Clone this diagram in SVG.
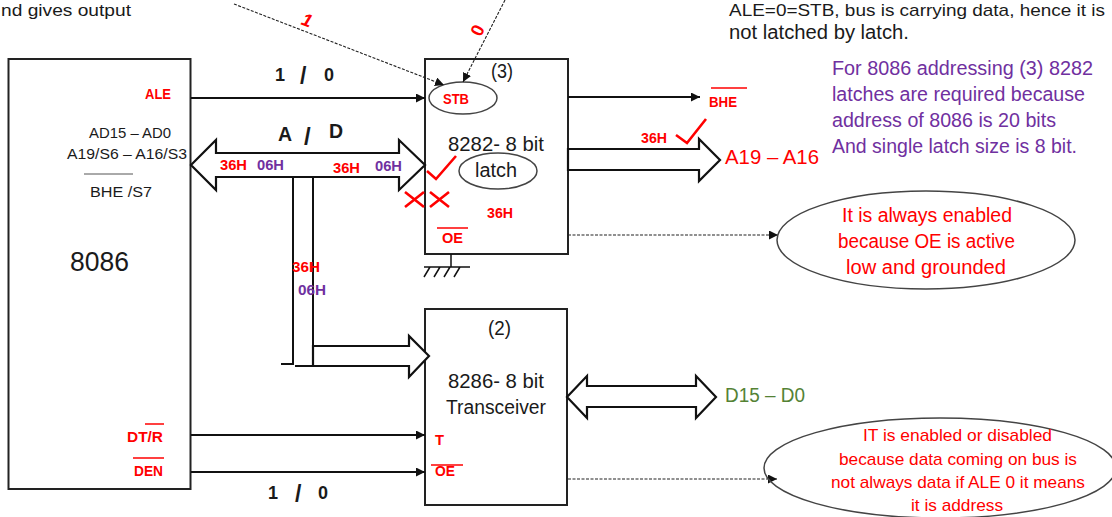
<svg xmlns="http://www.w3.org/2000/svg" width="1112" height="517" viewBox="0 0 1112 517">
<style>
text{font-family:"Liberation Sans",Arial,sans-serif;fill:#1a1a1a;font-size:19.500px}
.b{font-weight:bold}
.r{fill:#f00}
.p{fill:#7030a0}
.g{fill:#548235}
.s{font-size:14px}
.m{font-size:15px}
.k{font-size:18px}
.t{font-size:17px}
.box{fill:#fff;stroke:#222;stroke-width:2}
.oval{fill:none;stroke:#444;stroke-width:1.500}
.ln{fill:none;stroke:#111;stroke-width:2}
.bus{fill:#fff;stroke:#111;stroke-width:2.200}
.dash{fill:none;stroke:#222;stroke-width:1.100;stroke-dasharray:3 1.500}
.red{fill:none;stroke:#f00;stroke-width:2.600}
.bar{stroke:#f00;stroke-width:1.500}
</style>
<defs>
<marker id="a" markerUnits="userSpaceOnUse" markerWidth="10" markerHeight="9" refX="9" refY="4.500" orient="auto"><path d="M0 0L9 4.500L0 9Z" fill="#111"/></marker>
</defs>
<g id="top-notes">
<text class="t" x="1" y="16" textLength="130" lengthAdjust="spacingAndGlyphs">nd gives output</text>
<text class="t" x="729" y="16" textLength="376" lengthAdjust="spacingAndGlyphs">ALE=0=STB, bus is carrying data, hence it is</text>
<text x="729" y="39" textLength="180" lengthAdjust="spacingAndGlyphs">not latched by latch.</text>
</g>
<g id="node-8086">
<rect class="box" x="8.500" y="59" width="182" height="430"/>
<text class="b r s" x="145" y="99" textLength="26" lengthAdjust="spacingAndGlyphs">ALE</text>
<text class="m" x="89" y="138" textLength="82" lengthAdjust="spacingAndGlyphs">AD15 – AD0</text>
<text class="m" x="67" y="159" textLength="120" lengthAdjust="spacingAndGlyphs">A19/S6  – A16/S3</text>
<line x1="84" y1="174" x2="133" y2="174" stroke="#555" stroke-width="1"/>
<text class="m" x="90" y="197" textLength="62" lengthAdjust="spacingAndGlyphs">BHE /S7</text>
<text x="70" y="271" style="font-size:28px" textLength="59" lengthAdjust="spacingAndGlyphs">8086</text>
<text class="b r s" x="127" y="442" textLength="36" lengthAdjust="spacingAndGlyphs">DT/R</text>
<line class="bar" x1="145" y1="424" x2="164" y2="424"/>
<text class="b r s" x="134" y="476" textLength="29" lengthAdjust="spacingAndGlyphs">DEN</text>
<line class="bar" x1="133" y1="458" x2="164" y2="458"/>
</g>
<g id="node-8282">
<rect class="box" x="425" y="59" width="143" height="195"/>
<text x="491" y="78" textLength="22" lengthAdjust="spacingAndGlyphs">(3)</text>
<ellipse class="oval" cx="463" cy="98" rx="34" ry="16"/>
<text class="b r s" x="443" y="104" textLength="26" lengthAdjust="spacingAndGlyphs">STB</text>
<text x="448" y="151" textLength="96" lengthAdjust="spacingAndGlyphs">8282- 8 bit</text>
<ellipse class="oval" cx="498" cy="171" rx="39" ry="18"/>
<text x="475" y="177" textLength="42" lengthAdjust="spacingAndGlyphs">latch</text>
<text class="b r s" x="487" y="218" textLength="26" lengthAdjust="spacingAndGlyphs">36H</text>
<line class="bar" x1="437" y1="228" x2="468" y2="228"/>
<text class="b r s" x="442" y="243" textLength="21" lengthAdjust="spacingAndGlyphs">OE</text>
<path class="ln" style="stroke-width:1.500" d="M451 254V267M424 267H470M430 267L424 277M440 267L434 277M450 267L444 277M460 267L454 277"/>
</g>
<g id="node-8286">
<rect class="box" x="425" y="309" width="142" height="196"/>
<text x="488" y="335" textLength="23" lengthAdjust="spacingAndGlyphs">(2)</text>
<text x="448" y="388" textLength="96" lengthAdjust="spacingAndGlyphs">8286- 8 bit</text>
<text x="446" y="414" textLength="100" lengthAdjust="spacingAndGlyphs">Transceiver</text>
<text class="b r s" x="435" y="445" textLength="9" lengthAdjust="spacingAndGlyphs">T</text>
<line class="bar" x1="431" y1="465" x2="463" y2="465"/>
<text class="b r s" x="435" y="476" textLength="20" lengthAdjust="spacingAndGlyphs">OE</text>
</g>
<g id="connectors">
<line class="ln" x1="191" y1="98" x2="425" y2="98" marker-end="url(#a)"/>
<path class="bus" d="M191 165L216 140V153H399V140L425 165L399 190V177H216V190Z"/>
<path class="ln" d="M293 177V364H281M313 177V366M295 366H333"/>
<path class="bus" d="M313 346H409V336L429 356L409 377V366H313Z"/>
<line class="ln" x1="568" y1="97" x2="700" y2="97" marker-end="url(#a)"/>
<path class="bus" d="M568 149H699V139L720 160L699 181V170H568Z"/>
<path class="bus" d="M567 397L587 376V386H696V376L716 397L696 418V407H587V418Z"/>
<line class="ln" x1="191" y1="435" x2="425" y2="435" marker-end="url(#a)"/>
<line class="ln" x1="191" y1="472" x2="425" y2="472" marker-end="url(#a)"/>
<line class="dash" x1="234" y1="4" x2="444" y2="85" marker-end="url(#a)"/>
<line class="dash" x1="505" y1="0" x2="463" y2="82" marker-end="url(#a)"/>
<line class="dash" x1="568" y1="235" x2="778" y2="235" marker-end="url(#a)"/>
<line class="dash" x1="568" y1="479" x2="777" y2="479" marker-end="url(#a)"/>
</g>
<g id="bus-labels">
<text class="b" x="275" y="81" style="font-size:18px">1</text>
<text class="b" x="300" y="84" style="font-size:23px">/</text>
<text class="b" x="324" y="81" style="font-size:18px">0</text>
<text class="b" x="268" y="499" style="font-size:18px">1</text>
<text class="b" x="295" y="502" style="font-size:23px">/</text>
<text class="b" x="318" y="499" style="font-size:18px">0</text>
<text class="b" x="278" y="141">A</text>
<text class="b" x="304" y="145" style="font-size:24px">/</text>
<text class="b" x="329" y="138">D</text>
<text class="b r m" x="220" y="170" textLength="27" lengthAdjust="spacingAndGlyphs">36H</text>
<text class="b p m" x="257" y="170" textLength="27" lengthAdjust="spacingAndGlyphs">06H</text>
<text class="b r m" x="333" y="173" textLength="27" lengthAdjust="spacingAndGlyphs">36H</text>
<text class="b p m" x="375" y="171" textLength="27" lengthAdjust="spacingAndGlyphs">06H</text>
<text class="b r m" x="292" y="272" textLength="28" lengthAdjust="spacingAndGlyphs">36H</text>
<text class="b p m" x="298" y="295" textLength="28" lengthAdjust="spacingAndGlyphs">06H</text>
<text class="b r m" x="641" y="143" textLength="26" lengthAdjust="spacingAndGlyphs">36H</text>
<text class="b r s" x="709" y="107" textLength="28" lengthAdjust="spacingAndGlyphs">BHE</text>
<line class="bar" x1="711" y1="88" x2="747" y2="88"/>
<text class="r" x="725" y="164" textLength="94" lengthAdjust="spacingAndGlyphs">A19  – A16</text>
<text class="g" x="725" y="402" textLength="80" lengthAdjust="spacingAndGlyphs">D15 – D0</text>
<text class="b r k" transform="translate(305 26) rotate(20)" text-anchor="middle" font-style="italic">1</text>
<text class="b r k" transform="translate(483 33) rotate(-65)" text-anchor="middle">0</text>
</g>
<g id="marks">
<path class="red" d="M427 171L436 179L456 156"/>
<path class="red" d="M676 135L687 143L706 119"/>
<path class="red" d="M405 207L424 192M405 192L424 207M430 207L449 192M430 192L449 207"/>
</g>
<g id="note-8086">
<text class="p" x="832" y="75" textLength="261" lengthAdjust="spacingAndGlyphs">For 8086 addressing (3) 8282</text>
<text class="p" x="832" y="101" textLength="253" lengthAdjust="spacingAndGlyphs">latches are required because</text>
<text class="p" x="832" y="127" textLength="224" lengthAdjust="spacingAndGlyphs">address of 8086 is 20 bits</text>
<text class="p" x="832" y="153" textLength="245" lengthAdjust="spacingAndGlyphs">And single latch size is 8 bit.</text>
</g>
<g id="oval-enabled">
<ellipse class="oval" cx="926" cy="240" rx="149" ry="49"/>
<text class="r" x="842" y="222" textLength="170" lengthAdjust="spacingAndGlyphs">It is always enabled</text>
<text class="r" x="838" y="248" textLength="177" lengthAdjust="spacingAndGlyphs">because OE is active</text>
<text class="r" x="846" y="274" textLength="160" lengthAdjust="spacingAndGlyphs">low and grounded</text>
</g>
<g id="oval-disabled">
<ellipse class="oval" cx="940" cy="468" rx="176" ry="50"/>
<text class="r t" x="863" y="441" textLength="189" lengthAdjust="spacingAndGlyphs">IT is enabled or disabled</text>
<text class="r t" x="839" y="465" textLength="238" lengthAdjust="spacingAndGlyphs">because data coming on bus is</text>
<text class="r t" x="831" y="488" textLength="254" lengthAdjust="spacingAndGlyphs">not always data if ALE 0 it means</text>
<text class="r t" x="911" y="511" textLength="92" lengthAdjust="spacingAndGlyphs">it is address</text>
</g>
</svg>
